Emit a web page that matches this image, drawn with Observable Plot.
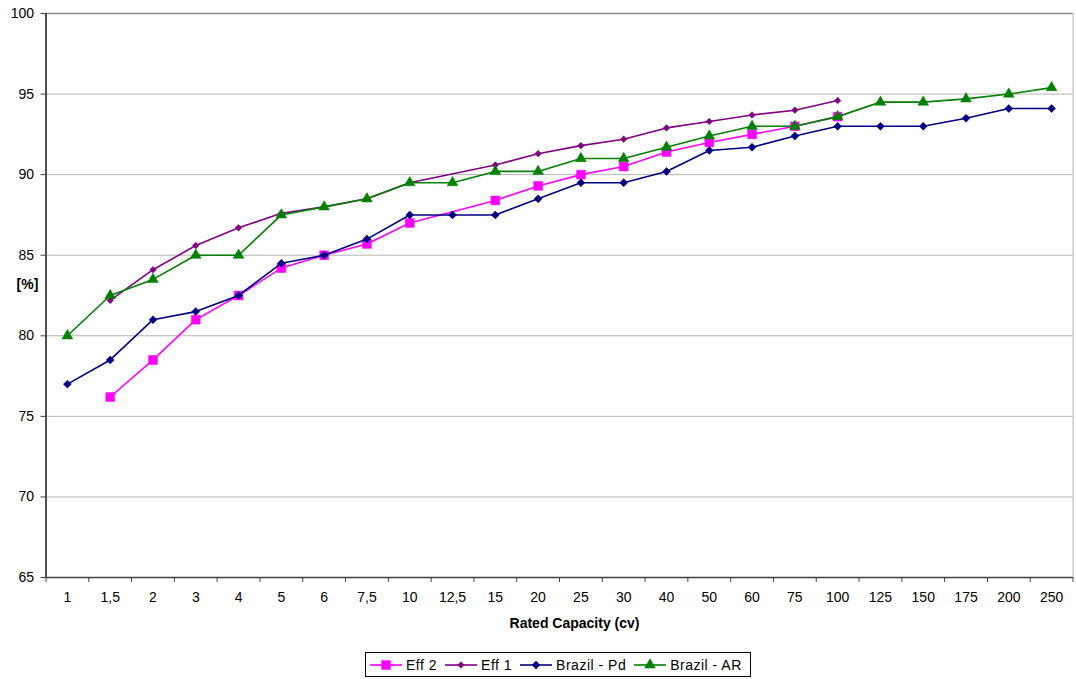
<!DOCTYPE html>
<html>
<head>
<meta charset="utf-8">
<script src="https://cdn.jsdelivr.net/npm/d3@7"></script>
<script src="https://cdn.jsdelivr.net/npm/@observablehq/plot@0.6"></script>
<style>
  body { margin: 0; background: #fff; font-family: "Liberation Sans", Arial, sans-serif; }
  #wrap { position: relative; width: 1076px; height: 679px; }
  #legend { position: absolute; left: 365px; top: 652px; height: 23px; border: 1px solid #000;
    display: flex; align-items: center; font-size: 14px; letter-spacing: 0.5px; padding: 0 8px 0 4px; box-sizing: content-box; white-space: nowrap; }
  #legend .item { display: flex; align-items: center; margin-right: 8px; }
  #legend .item:last-child { margin-right: 0; }
  #legend svg { margin-right: 4px; }
</style>
</head>
<body>
<div id="wrap">
  <div id="chart"></div>
  <div id="legend"></div>
</div>
<script>
const categories = ["1","1,5","2","3","4","5","6","7,5","10","12,5","15","20","25","30","40","50","60","75","100","125","150","175","200","250"];
const yTicks = [65, 70, 75, 80, 85, 90, 95, 100];

// null = no value at that capacity
const eff2 =    [null, 76.2, 78.5, 81.0, 82.5, 84.2, 85.0, 85.7, 87.0, null, 88.4, 89.3, 90.0, 90.5, 91.4, 92.0, 92.5, 93.0, 93.6, null, null, null, null, null];
const eff1 =    [null, 82.2, 84.1, 85.6, 86.7, 87.6, 88.0, 88.5, 89.5, null, 90.6, 91.3, 91.8, 92.2, 92.9, 93.3, 93.7, 94.0, 94.6, null, null, null, null, null];
const brazilPd = [77.0, 78.5, 81.0, 81.5, 82.5, 84.5, 85.0, 86.0, 87.5, 87.5, 87.5, 88.5, 89.5, 89.5, 90.2, 91.5, 91.7, 92.4, 93.0, 93.0, 93.0, 93.5, 94.1, 94.1];
const brazilAR = [80.0, 82.5, 83.5, 85.0, 85.0, 87.5, 88.0, 88.5, 89.5, 89.5, 90.2, 90.2, 91.0, 91.0, 91.7, 92.4, 93.0, 93.0, 93.6, 94.5, 94.5, 94.7, 95.0, 95.4];

const seriesDefs = [
  {name: "Eff 2", values: eff2, color: "#FF00FF", symbol: "square", r: 5.0},
  {name: "Eff 1", values: eff1, color: "#800080", symbol: "diamond2", r: 3.0},
  {name: "Brazil - Pd", values: brazilPd, color: "#000080", symbol: "diamond2", r: 3.6},
  {name: "Brazil - AR", values: brazilAR, color: "#008000", symbol: "triangle", r: 4.0}
];

function rows(s) {
  return categories.map((c, i) => ({cat: c, v: s.values[i]})).filter(d => d.v != null);
}

const W = 1076, H = 645, mL = 45.5, mR = 3.5, mT = 13, mB = 68;
const bw = (W - mL - mR) / categories.length;
const font = "Liberation Sans, Arial, sans-serif";

const marks = [
  Plot.ruleY(yTicks.filter(t => t > 65 && t < 100), {y: d => d, stroke: "#b4b4b4", strokeWidth: 1}),
  Plot.frame({stroke: "#b4b4b4"}),
  Plot.ruleY([100], {stroke: "#8c8c8c", strokeWidth: 1.5}),
  Plot.ruleY([65], {stroke: "#404040", strokeWidth: 1.5}),
  Plot.ruleX([categories[0]], {x: d => d, dx: -bw / 2, y1: 65, y2: 100, stroke: "#404040", strokeWidth: 1.8}),
  Plot.ruleX(categories, {x: d => d, dx: -bw / 2, y1: 65, y2: 65, insetBottom: -5, stroke: "#404040"}),
  Plot.ruleX([categories[categories.length - 1]], {x: d => d, dx: bw / 2, y1: 65, y2: 65, insetBottom: -5, stroke: "#404040"}),
  Plot.axisY(yTicks, {tickSize: 5, tickPadding: 7, fontSize: 14, label: null, stroke: "#404040"}),
  Plot.axisX({tickSize: 0, tickPadding: 15, fontSize: 14, label: null}),
  Plot.text(["Rated Capacity (cv)"], {frameAnchor: "bottom", dx: 15, dy: 50, fontWeight: "bold", fontSize: 14, text: d => d}),
  Plot.text(["[%]"], {frameAnchor: "left", textAnchor: "middle", dx: -18.5, dy: -11, fontWeight: "bold", fontSize: 14, text: d => d})
];

for (const s of seriesDefs) {
  const data = rows(s);
  marks.push(Plot.line(data, {x: "cat", y: "v", stroke: s.color, strokeWidth: 1.6}));
  marks.push(Plot.dot(data, {x: "cat", y: "v", fill: s.color, stroke: s.color, strokeWidth: 0.5, symbol: s.symbol, r: s.r}));
}

const chart = Plot.plot({
  width: W, height: H,
  marginLeft: mL, marginRight: mR, marginTop: mT, marginBottom: mB,
  style: {fontFamily: font, fontSize: "14px", color: "#000", background: "#fff"},
  x: {type: "point", domain: categories, padding: 0.5, align: 0.5, round: false, axis: null},
  y: {domain: [65, 100], axis: null},
  marks
});
document.getElementById("chart").appendChild(chart);

// legend
const legend = document.getElementById("legend");
for (const s of seriesDefs) {
  const item = document.createElement("div");
  item.className = "item";
  const sw = d3.create("svg").attr("width", 32).attr("height", 14);
  sw.append("line").attr("x1", 0).attr("x2", 32).attr("y1", 7).attr("y2", 7).attr("stroke", s.color).attr("stroke-width", 1.6);
  const symMap = {square: d3.symbolSquare, diamond2: d3.symbolDiamond2, triangle: d3.symbolTriangle};
  sw.append("path").attr("transform", "translate(16,7)")
    .attr("d", d3.symbol(symMap[s.symbol], s.r * s.r * Math.PI)())
    .attr("fill", s.color).attr("stroke", s.color).attr("stroke-width", 0.5);
  item.appendChild(sw.node());
  const t = document.createElement("span");
  t.textContent = s.name;
  item.appendChild(t);
  legend.appendChild(item);
}
</script>
</body>
</html>
